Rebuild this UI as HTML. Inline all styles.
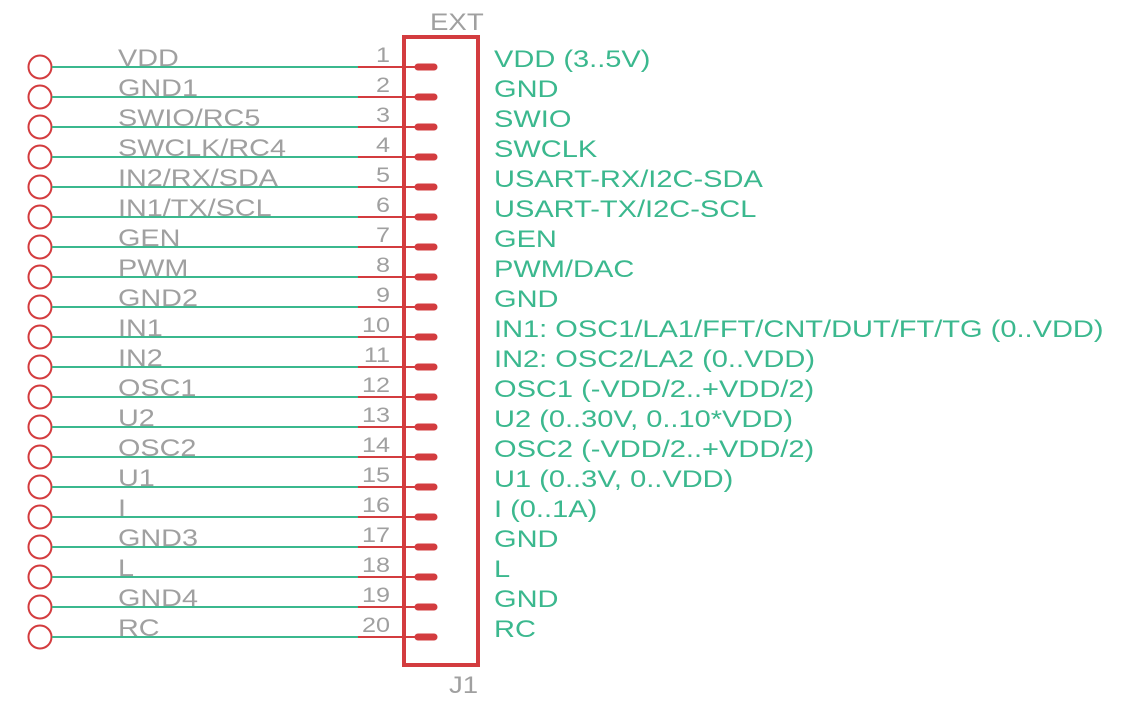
<!DOCTYPE html>
<html><head><meta charset="utf-8"><style>html,body{margin:0;padding:0;background:#fff}</style></head><body>
<svg width="1133" height="705" xmlns="http://www.w3.org/2000/svg" font-family="Liberation Sans, sans-serif">
<rect x="404" y="37" width="74" height="628" fill="none" stroke="#d33c3f" stroke-width="4"/>
<text transform="translate(430,30) scale(1.15,1)" font-size="24" fill="#a0a0a0">EXT</text>
<text transform="translate(449,693) scale(1.15,1)" font-size="24" fill="#a0a0a0">J1</text>
<g id="rows"></g>
</svg>
<script>
const L=["VDD","GND1","SWIO/RC5","SWCLK/RC4","IN2/RX/SDA","IN1/TX/SCL","GEN","PWM","GND2","IN1","IN2","OSC1","U2","OSC2","U1","I","GND3","L","GND4","RC"];
const R=["VDD (3..5V)","GND","SWIO","SWCLK","USART-RX/I2C-SDA","USART-TX/I2C-SCL","GEN","PWM/DAC","GND","IN1: OSC1/LA1/FFT/CNT/DUT/FT/TG (0..VDD)","IN2: OSC2/LA2 (0..VDD)","OSC1 (-VDD/2..+VDD/2)","U2 (0..30V, 0..10*VDD)","OSC2 (-VDD/2..+VDD/2)","U1 (0..3V, 0..VDD)","I (0..1A)","GND","L","GND","RC"];
let s="";
for(let i=0;i<20;i++){const y=67+30*i;
s+=`<circle cx="40" cy="${y}" r="11.5" fill="none" stroke="#d33c3f" stroke-width="2"/>`;
s+=`<line x1="52" y1="${y}" x2="358" y2="${y}" stroke="#3bb88e" stroke-width="2"/>`;
s+=`<line x1="358" y1="${y}" x2="416" y2="${y}" stroke="#d33c3f" stroke-width="2"/>`;
s+=`<line x1="418" y1="${y}" x2="434" y2="${y}" stroke="#d33c3f" stroke-width="7" stroke-linecap="round"/>`;
s+=`<text transform="translate(118,${y-1}) scale(1.2,1)" font-size="24" fill="#a0a0a0">${L[i]}</text>`;
s+=`<text transform="translate(390,${y-5}) scale(1.2,1)" font-size="21" fill="#a0a0a0" text-anchor="end">${i+1}</text>`;
s+=`<text transform="translate(494,${y}) scale(1.21,1)" font-size="24" fill="#3bb88e">${R[i]}</text>`;}
document.getElementById("rows").innerHTML=s;
</script>
</body></html>
